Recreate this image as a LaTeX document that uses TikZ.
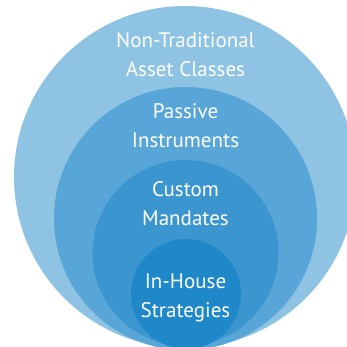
\documentclass[tikz,border=0pt]{standalone}
\usepackage{fontspec}
\setmainfont{PT Sans}
\usetikzlibrary{positioning}

\begin{document}
\begin{tikzpicture}[
    x=1pt, y=-1pt,
    ring/.style={draw=none},
    label text/.style={text=white, align=center,
        font=\fontsize{21}{29}\selectfont}
    ]

\definecolor{ringA}{HTML}{8EC3E3}
\definecolor{ringB}{HTML}{58A6D7}
\definecolor{ringC}{HTML}{3B95CF}
\definecolor{ringD}{HTML}{1F88C9}

\useasboundingbox (0,0) rectangle (347,346);
\clip (0,0) rectangle (347,346);

% centres of the nested circles
\coordinate (cA) at (185,177);
\coordinate (cB) at (185.5,218.5);
\coordinate (cC) at (185.5,253);
\coordinate (cD) at (186,294);

\fill[ring, ringA] (cA) circle[radius=171];
\fill[ring, ringB] (cB) circle[radius=131.5];
\fill[ring, ringC] (cC) circle[radius=93];
\fill[ring, ringD] (cD) circle[radius=55];

\node[label text] (nontrad) at (185.5,55) {Non-Traditional\\Asset Classes};
\node[label text] (passive) at (185.5,126) {Passive\\Instruments};
\node[label text] (custom) at (185.5,203.5) {Custom\\Mandates};
\node[label text] (inhouse) at (185.5,297.5) {In-House\\Strategies};

\end{tikzpicture}
\end{document}
